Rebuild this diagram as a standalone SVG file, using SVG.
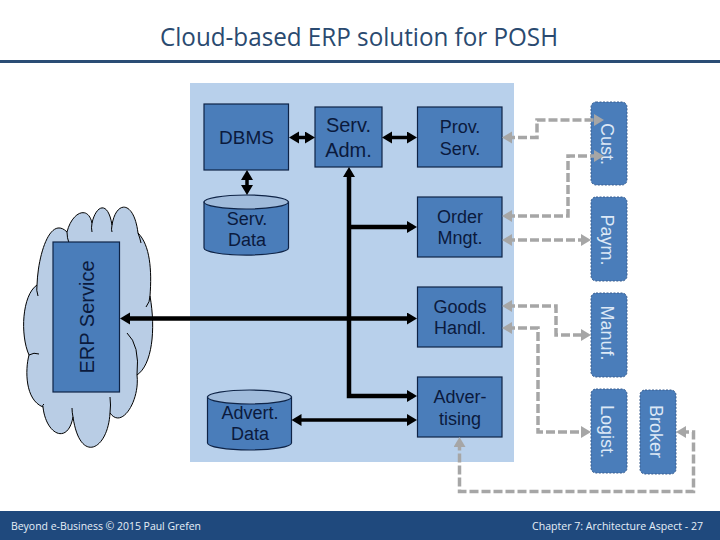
<svg xmlns="http://www.w3.org/2000/svg" width="720" height="540" viewBox="0 0 720 540">
<style>
text{font-family:"Liberation Sans",Arial,sans-serif;font-size:18px;fill:#0b1a3d;text-anchor:middle}
.box{fill:#4a7dba;stroke:#0e2346;stroke-width:1.2}
.cap{fill:#a0bbdb;stroke:#0e2346;stroke-width:1.2}
.ext rect{fill:#4a7dba;stroke:#3a5f90;stroke-width:1;stroke-dasharray:2 1.5}
.ext text{fill:#dce8f6}
.bk{fill:none;stroke:#000;stroke-width:3.5}
.bus{fill:none;stroke:#000;stroke-width:4.5}
.gr{fill:none;stroke:#a6a6a6;stroke-width:3.5;stroke-dasharray:9 3}
text.ft{font-family:"Open Sans","Liberation Sans",sans-serif;font-size:11px;fill:#e6eff8}
</style>
<defs>
<marker id="ab" markerUnits="userSpaceOnUse" markerWidth="12" markerHeight="13" refX="6" refY="6" orient="auto-start-reverse"><path d="M0,0L10,6L0,12z" fill="#000"/></marker>
<marker id="ag" markerUnits="userSpaceOnUse" markerWidth="12" markerHeight="13" refX="6" refY="6" orient="auto-start-reverse"><path d="M0,0L10,6L0,12z" fill="#a6a6a6"/></marker>
</defs>
<g id="header">
<text x="359" y="46" style="font-family:'Open Sans','Liberation Sans',sans-serif;font-size:25px;fill:#2a4a70" textLength="398" lengthAdjust="spacingAndGlyphs">Cloud-based ERP solution for POSH</text>
<rect x="0" y="60" width="720" height="3" fill="#2a4d75"/>
</g>
<g id="footer">
<rect x="0" y="511" width="720" height="29" fill="#1f497d"/>
<text class="ft" x="106" y="530" textLength="190" lengthAdjust="spacingAndGlyphs">Beyond e-Business © 2015 Paul Grefen</text>
<text class="ft" x="617.500" y="530" textLength="171" lengthAdjust="spacingAndGlyphs">Chapter 7: Architecture Aspect - 27</text>
</g>
<rect id="panel" x="190" y="83" width="324" height="379" fill="#b8d0eb"/>
<g id="cloud">
<path d="M67,232C72,212 88,205 92,223C96,205 108,200 112,225C116,200 134,200 138,233C150,245 152,270 150,296C156,330 152,365 137,375C140,400 122,430 110,413C108,450 80,465 73,417C68,445 46,435 43,407C25,400 25,370 29,355C20,335 22,295 37,285C38,255 50,215 67,232Z" fill="#b9cde5" stroke="#000" stroke-width="1"/>
<path d="M67,232Q67,238 69,243M92,223Q91,228 92,232M112,225Q111,230 112,232M138,233Q140,238 141,243M150,296Q150,302 146,307M127,333Q140,345 137,375M110,413Q111,405 110,397M73,417Q72,412 72,408M43,407Q42,405 44,404M29,355Q34,352 39,354M37,285Q36,290 38,296" fill="none" stroke="#000" stroke-width="1"/>
</g>
<g id="erp-service"><rect class="box" x="53" y="242" width="66.500" height="150"/><text style="font-size:20px" transform="translate(93.500 317) rotate(-90)">ERP Service</text></g>
<g id="dbms"><rect class="box" x="204" y="104" width="84.500" height="66"/><text style="font-size:19px" x="246.500" y="144">DBMS</text></g>
<g id="serv-adm"><rect class="box" x="315" y="107" width="67" height="60"/><text style="font-size:20px" x="348.500" y="132">Serv.</text><text style="font-size:20px" x="348.500" y="157">Adm.</text></g>
<g id="prov-serv"><rect class="box" x="417.500" y="107" width="84.500" height="60"/><text x="460" y="133">Prov.</text><text x="460" y="155">Serv.</text></g>
<g id="order-mngt"><rect class="box" x="417.500" y="197" width="84.500" height="60"/><text x="460" y="223">Order</text><text x="460" y="244">Mngt.</text></g>
<g id="goods-handl"><rect class="box" x="417.500" y="287" width="84.500" height="60"/><text x="460" y="313">Goods</text><text x="460" y="334">Handl.</text></g>
<g id="advertising"><rect class="box" x="417.500" y="377" width="84.500" height="60"/><text x="460" y="403">Adver-</text><text x="460" y="425">tising</text></g>
<g id="serv-data"><path class="box" d="M204,202V248A42,7 0 0 0 288.500,248V202Z"/><ellipse class="cap" cx="246.200" cy="202" rx="42.200" ry="7"/><text x="247" y="225">Serv.</text><text x="247" y="246">Data</text></g>
<g id="advert-data"><path class="box" d="M207.500,397V443A42,7 0 0 0 291.500,443V397Z"/><ellipse class="cap" cx="249.500" cy="397" rx="42" ry="7"/><text x="250" y="419">Advert.</text><text x="250" y="440">Data</text></g>
<g id="cust" class="ext"><rect x="591" y="102" width="36" height="83" rx="5"/><text transform="translate(600.500 144) rotate(90)">Cust.</text></g>
<g id="paym" class="ext"><rect x="591" y="197" width="36" height="84" rx="5"/><text transform="translate(600.500 240) rotate(90)">Paym.</text></g>
<g id="manuf" class="ext"><rect x="591" y="293" width="36" height="84" rx="5"/><text transform="translate(600.500 333) rotate(90)">Manuf.</text></g>
<g id="logist" class="ext"><rect x="591" y="389" width="36" height="84" rx="5"/><text transform="translate(600.500 431.500) rotate(90)">Logist.</text></g>
<g id="broker" class="ext"><rect x="640" y="390" width="36" height="84" rx="5"/><text transform="translate(650 431.500) rotate(90)">Broker</text></g>
<g id="connectors">
<path class="bk" d="M293,137.500H311" marker-start="url(#ab)" marker-end="url(#ab)"/>
<path class="bk" d="M386,137.500H413" marker-start="url(#ab)" marker-end="url(#ab)"/>
<path class="bk" d="M247,174V191" marker-start="url(#ab)" marker-end="url(#ab)"/>
<path class="bus" d="M349,171V396H413" marker-start="url(#ab)" marker-end="url(#ab)"/>
<path class="bus" d="M349,227H413" marker-end="url(#ab)"/>
<path class="bus" d="M124,318.500H413" marker-start="url(#ab)" marker-end="url(#ab)"/>
<path class="bk" d="M295.500,420H413" marker-start="url(#ab)" marker-end="url(#ab)"/>
<path class="gr" d="M506,137.500H537V120H600" marker-start="url(#ag)" marker-end="url(#ag)"/>
<path class="gr" d="M506,216H568V156H600" marker-start="url(#ag)" marker-end="url(#ag)"/>
<path class="gr" d="M506,240H587" marker-start="url(#ag)" marker-end="url(#ag)"/>
<path class="gr" d="M506,306H556V335H587" marker-start="url(#ag)" marker-end="url(#ag)"/>
<path class="gr" d="M506,328H538V432H587" marker-start="url(#ag)" marker-end="url(#ag)"/>
<path class="gr" d="M680,432H693.500V491.500H459.500V441" marker-start="url(#ag)" marker-end="url(#ag)"/>
</g>
</svg>
